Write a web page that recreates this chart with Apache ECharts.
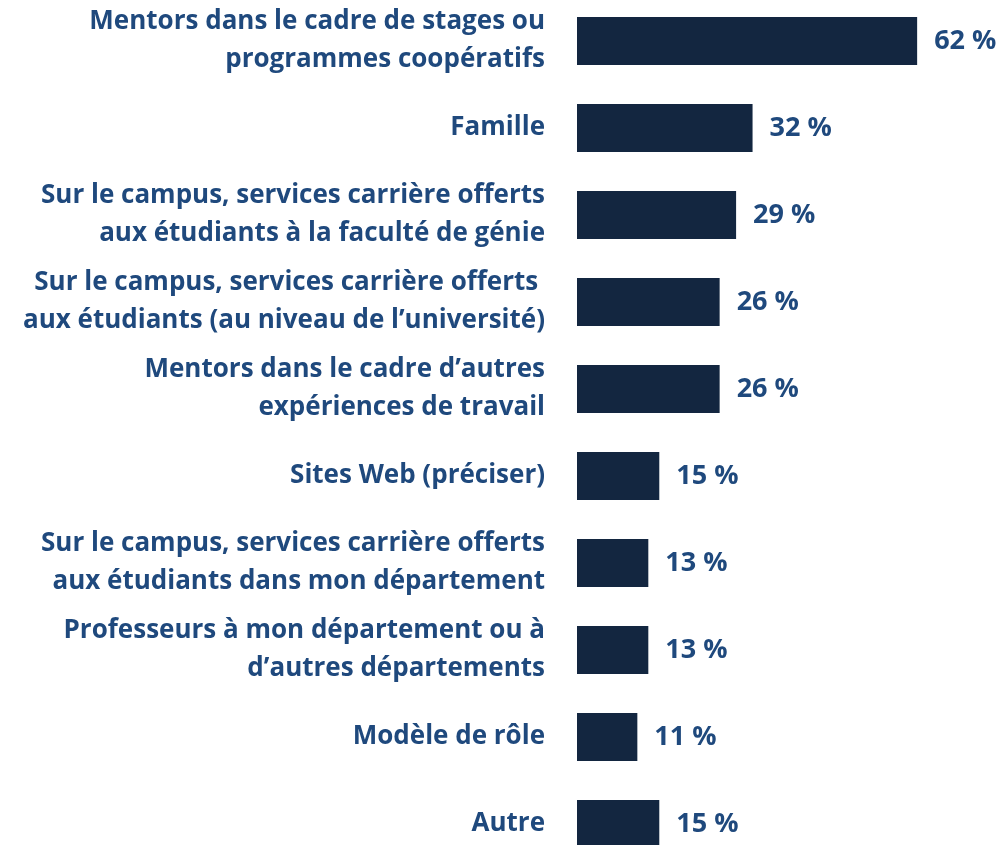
<html>
<head>
<meta charset="UTF-8">
<script src="https://cdn.jsdelivr.net/npm/echarts@6/dist/echarts.min.js"></script>
</head>
<body style="margin:0">
<div id="main" style="width:999px;height:845px"></div>
<script>
// catégories (de haut en bas)
var categories = [
  'Mentors dans le cadre de stages ou\nprogrammes coopératifs',
  'Famille',
  'Sur le campus, services carrière offerts\naux étudiants à la faculté de génie',
  'Sur le campus, services carrière offerts \naux étudiants (au niveau de l\u2019université)',
  'Mentors dans le cadre d\u2019autres\nexpériences de travail',
  'Sites Web (préciser)',
  'Sur le campus, services carrière offerts\naux étudiants dans mon département',
  'Professeurs à mon département ou à\nd\u2019autres départements',
  'Modèle de rôle',
  'Autre'
];
var values = [62, 32, 29, 26, 26, 15, 13, 13, 11, 15];

var chart = echarts.init(document.getElementById('main'));
var option = {
  animation: false,
  grid: {left: 577, right: 27, top: -2.5, height: 870, containLabel: false, outerBoundsMode: 'none'},
  xAxis: {
    type: 'value', min: 0, max: 72,
    show: false
  },
  yAxis: {
    type: 'category',
    data: categories,
    inverse: true,
    axisLine: {show: false},
    axisTick: {show: false},
    axisLabel: {
      margin: 32,
      align: 'right',
      color: '#1F497D',
      fontFamily: 'Open Sans',
      fontWeight: 'bold',
      fontSize: 26,
      lineHeight: 38
    }
  },
  series: [{
    type: 'bar',
    data: values,
    barWidth: 48,
    itemStyle: {color: '#132640'},
    label: {
      show: true,
      position: 'right',
      distance: 17,
      formatter: '{c} %',
      color: '#1F497D',
      fontFamily: 'Open Sans',
      fontWeight: 'bold',
      fontSize: 27
    }
  }]
};
chart.setOption(option);
</script>
</body>
</html>
